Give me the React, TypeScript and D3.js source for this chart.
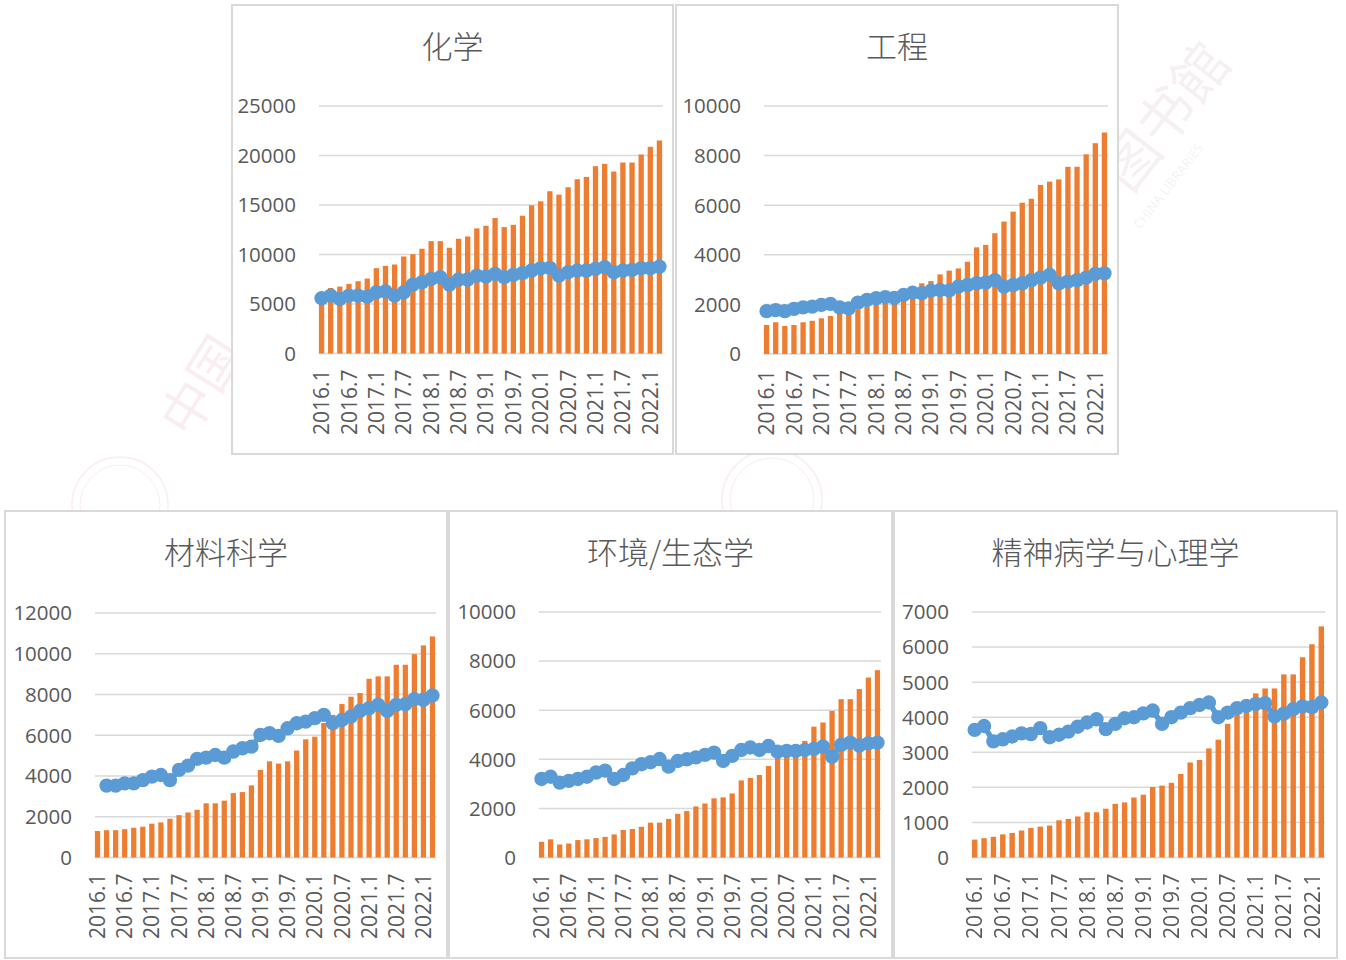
import * as d3 from "d3";

// bimonthly categories, 2016.1 .. 2022.3
const months = [
  "2016.1", "2016.3", "2016.5", "2016.7", "2016.9", "2016.11",
  "2017.1", "2017.3", "2017.5", "2017.7", "2017.9", "2017.11",
  "2018.1", "2018.3", "2018.5", "2018.7", "2018.9", "2018.11",
  "2019.1", "2019.3", "2019.5", "2019.7", "2019.9", "2019.11",
  "2020.1", "2020.3", "2020.5", "2020.7", "2020.9", "2020.11",
  "2021.1", "2021.3", "2021.5", "2021.7", "2021.9", "2021.11",
  "2022.1", "2022.3",
];

const titles = ["化学", "工程", "材料科学", "环境/生态学", "精神病学与心理学"];

const chemBars = [6000, 6620, 6760, 7030, 7300, 7570, 8620, 8850, 8990, 9800, 10030, 10580, 11350, 11350, 10680, 11590, 11820, 12640, 12900, 13680, 12770, 13000, 13920, 14970, 15370, 16390, 16050, 16790, 17600, 17840, 18920, 19160, 18380, 19290, 19290, 20100, 20880, 21520];
const chemLine = [5580, 5850, 5510, 5850, 5850, 5740, 6180, 6280, 5850, 6180, 6960, 7200, 7530, 7700, 6960, 7470, 7470, 7870, 7770, 8040, 7700, 7940, 8110, 8380, 8620, 8650, 7870, 8210, 8380, 8380, 8550, 8720, 8210, 8380, 8450, 8620, 8620, 8780];

const engBars = [1170, 1280, 1130, 1170, 1280, 1340, 1440, 1530, 1640, 1700, 1800, 1910, 1980, 2020, 2070, 2180, 2510, 2850, 2940, 3210, 3360, 3450, 3720, 4300, 4400, 4870, 5340, 5740, 6100, 6260, 6820, 6950, 7040, 7550, 7550, 8050, 8500, 8930];
const engLine = [1730, 1770, 1730, 1820, 1880, 1910, 1980, 2020, 1880, 1840, 2070, 2180, 2250, 2290, 2260, 2380, 2470, 2450, 2550, 2580, 2560, 2720, 2780, 2850, 2880, 2980, 2720, 2780, 2850, 2980, 3080, 3190, 2850, 2920, 2980, 3080, 3230, 3250];

const matBars = [1300, 1340, 1340, 1390, 1460, 1510, 1660, 1720, 1900, 2080, 2210, 2340, 2660, 2660, 2790, 3160, 3210, 3540, 4300, 4720, 4610, 4720, 5250, 5800, 5930, 6600, 7000, 7530, 7890, 8070, 8770, 8890, 8890, 9460, 9460, 9980, 10410, 10850];
const matLine = [null, 3530, 3530, 3640, 3640, 3800, 3970, 4050, 3800, 4300, 4510, 4840, 4900, 5030, 4900, 5200, 5360, 5440, 6020, 6100, 5970, 6340, 6590, 6670, 6840, 7000, 6590, 6750, 6920, 7200, 7330, 7490, 7200, 7490, 7530, 7770, 7740, 7950];

const envBars = [640, 740, 530, 570, 710, 740, 790, 840, 940, 1120, 1160, 1250, 1420, 1420, 1570, 1780, 1890, 2080, 2200, 2410, 2450, 2610, 3140, 3240, 3360, 3730, 4310, 4380, 4590, 4750, 5330, 5500, 5970, 6450, 6450, 6860, 7330, 7630];
const envLine = [3200, 3290, 3050, 3120, 3200, 3290, 3460, 3540, 3200, 3360, 3630, 3800, 3880, 4010, 3700, 3930, 4000, 4080, 4180, 4270, 3930, 4140, 4380, 4480, 4380, 4540, 4310, 4340, 4340, 4380, 4420, 4520, 4110, 4590, 4680, 4560, 4650, 4680];

const psyBars = [510, 550, 590, 660, 700, 770, 840, 880, 910, 1060, 1100, 1170, 1290, 1290, 1390, 1530, 1570, 1710, 1790, 2010, 2050, 2130, 2380, 2710, 2780, 3110, 3360, 3810, 4070, 4310, 4680, 4820, 4820, 5220, 5220, 5710, 6080, 6590];
const psyLine = [3640, 3750, 3310, 3370, 3450, 3540, 3520, 3690, 3430, 3500, 3590, 3730, 3850, 3940, 3660, 3810, 3970, 4000, 4110, 4190, 3810, 4000, 4130, 4260, 4350, 4420, 4000, 4130, 4260, 4320, 4380, 4400, 4020, 4100, 4230, 4310, 4290, 4420];

const yMax = [25000, 10000, 12000, 10000, 7000];
const yStep = [5000, 2000, 2000, 2000, 1000];

const seriesBars = [chemBars, engBars, matBars, envBars, psyBars];
const seriesLine: (number | null)[][] = [chemLine, engLine, matLine, envLine, psyLine];

// frame + plot area of each panel (pixels)
const layout = [
  { bx: 232, by: 5, bw: 441, bh: 449, x0: 317, x1: 664, yTop: 106, yBot: 353.5 },
  { bx: 676, by: 5, bw: 442, bh: 449, x0: 762, x1: 1109, yTop: 106, yBot: 354 },
  { bx: 5, by: 511, bw: 442, bh: 447, x0: 93, x1: 437, yTop: 613, yBot: 857.5 },
  { bx: 449, by: 511, bw: 443, bh: 447, x0: 537, x1: 882, yTop: 612, yBot: 857.5 },
  { bx: 894, by: 511, bw: 443, bh: 447, x0: 970, x1: 1326, yTop: 612, yBot: 857.5 },
];

const ORANGE = "#ED7D31";
const BLUE = "#5B9BD5";
const GRID = "#D9D9D9";
const TEXT = "#595959";
const NUM_FONT = "'Open Sans', 'Noto Sans', sans-serif";
const CJK_FONT = "'Noto Sans CJK SC', sans-serif";

function Panel({ i }: { i: number }) {
  const L = layout[i];
  const bars = seriesBars[i];
  const vals = seriesLine[i];

  const x = d3.scaleBand<string>()
    .domain(months)
    .range([L.x0, L.x1])
    .paddingInner(0.42)
    .paddingOuter(0.21);
  const y = d3.scaleLinear().domain([0, yMax[i]]).range([L.yBot, L.yTop]);
  const ticks = d3.range(0, yMax[i] + 1, yStep[i]);
  const cx = (m: string) => x(m)! + x.bandwidth() / 2;

  const line = d3.line<number | null>()
    .defined(d => d != null)
    .x((_, k) => cx(months[k]))
    .y(d => y(d as number));

  return (
    <g>
      <rect x={L.bx} y={L.by} width={L.bw} height={L.bh} fill="#fff" stroke={GRID} strokeWidth={2} />
      <text x={L.bx + L.bw / 2} y={L.by + 39} textAnchor="middle" dominantBaseline="central"
        fontFamily={CJK_FONT} fontWeight={300} fontSize={31} fill={TEXT}>{titles[i]}</text>

      {ticks.map(t => (
        <g key={t}>
          <line x1={L.x0 + 2} x2={L.x1 - 1} y1={y(t)} y2={y(t)} stroke={GRID} strokeWidth={1.5} />
          <text x={L.x0 - 21} y={y(t)} dy="0.36em" textAnchor="end"
            fontFamily={NUM_FONT} fontSize={20.5} fill={TEXT}>{t}</text>
        </g>
      ))}

      {bars.map((v, k) => (
        <rect key={k} x={x(months[k])} y={y(v)} width={x.bandwidth()} height={y(0) - y(v)} fill={ORANGE} />
      ))}

      <path d={line(vals) ?? ""} fill="none" stroke={BLUE} strokeWidth={5.5} strokeLinejoin="round" />
      {vals.map((v, k) => v == null ? null : (
        <circle key={k} cx={cx(months[k])} cy={y(v)} r={7.2} fill={BLUE} />
      ))}

      {months.map((m, k) => k % 3 !== 0 ? null : (
        <text key={m} transform={`translate(${cx(m)},${L.yBot + 16}) rotate(-90)`} dy="0.36em"
          textAnchor="end" fontFamily={NUM_FONT} fontSize={21} fill={TEXT}>{m}</text>
      ))}
    </g>
  );
}

function Watermark() {
  const pink = "#e7a3ad";
  return (
    <g opacity={0.2}>
      <text transform="translate(190,440) rotate(-58)" fontFamily={CJK_FONT} fontSize={52} fill={pink}>中国</text>
      <circle cx={120} cy={505} r={48} fill="none" stroke={pink} strokeWidth={1.5} />
      <circle cx={120} cy={505} r={40} fill="none" stroke={pink} strokeWidth={1} />
      <circle cx={772} cy={500} r={50} fill="none" stroke={pink} strokeWidth={1.5} />
      <circle cx={772} cy={500} r={42} fill="none" stroke={pink} strokeWidth={1} />
      <text transform="translate(1130,195) rotate(-52)" fontFamily={CJK_FONT} fontSize={56} fill="#d4b3b8">图书館</text>
      <text transform="translate(1140,230) rotate(-52)" fontFamily={NUM_FONT} fontSize={13} fill="#d4b3b8">CHINA LIBRARIES</text>
    </g>
  );
}

export default function App() {
  return (
    <svg width={1346} height={960} style={{ position: "absolute", left: 0, top: 0, background: "#fff" }}>
      <rect width={1346} height={960} fill="#fff" />
      <Watermark />
      {titles.map((_, i) => <Panel key={i} i={i} />)}
    </svg>
  );
}
